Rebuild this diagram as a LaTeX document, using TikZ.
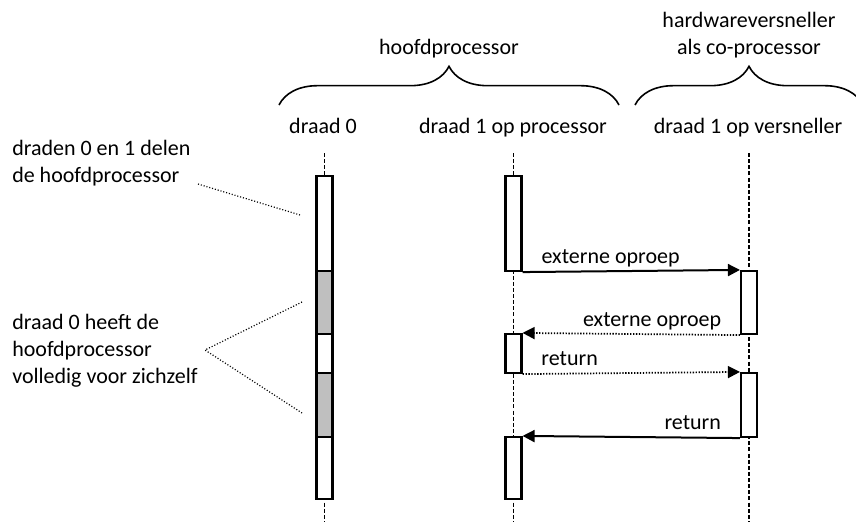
\documentclass[tikz,border=0pt]{standalone}
\usepackage{fontspec}
\setmainfont{Carlito}
\usetikzlibrary{arrows.meta,decorations.pathreplacing,fit}
\begin{document}
\begin{tikzpicture}[x=0.75pt,y=-0.75pt,
  every node/.style={font=\fontsize{16.5pt}{20pt}\selectfont, inner sep=0pt},
  act/.style={draw, line width=1.6pt, fill=white, rectangle, inner sep=0pt},
  busy/.style={act, fill=gray!50},
  lifeline/.style={line width=1.05pt, dash pattern=on 3pt off 1.6pt},
  msg/.style={line width=1.5pt, -{Triangle[length=9pt,width=9pt]}},
  msgdot/.style={msg, line width=1.3pt, dash pattern=on 1pt off 1.2pt},
  notelink/.style={line width=0.9pt, dash pattern=on 0.8pt off 1.4pt},
  bracket/.style={line width=1.2pt, decorate, decoration={brace, amplitude=29pt}},
  lbl/.style={inner sep=0pt}
]
\useasboundingbox (0,0) rectangle (856,522);

% column headings
\node[anchor=base] (main) at (449,54) {hoofdprocessor};
\node[anchor=base, align=center] (accel) at (749,54) {hardwareversneller\\als co-processor};
\draw[bracket] (279,105) -- (619,105);
\draw[bracket] (635,105) -- (863,105);
\node[anchor=base] (t0) at (323,133) {draad 0};
\node[anchor=base] (t1) at (513,133) {draad 1 op processor};
\node[anchor=base] (t2) at (748,133) {draad 1 op versneller};

% lifelines
\coordinate (l0top) at (324.5,153);  \coordinate (l0bot) at (324.5,522);
\coordinate (l1top) at (513.5,153);  \coordinate (l1bot) at (513.5,522);
\coordinate (l2top) at (749,153);    \coordinate (l2bot) at (749,522);
\draw[lifeline] (l0top) -- (l0bot);
\draw[lifeline] (l1top) -- (l1bot);
\draw[lifeline] (l2top) -- (l2bot);

% thread 0 on the main processor
\node[act,  fit={(316.5,176) (332.5,271)}] (w1) {};
\node[busy, fit={(316.5,271) (332.5,334)}] (g1) {};
\node[act,  fit={(316.5,334) (332.5,373)}] (w2) {};
\node[busy, fit={(316.5,373) (332.5,437)}] (g2) {};
\node[act,  fit={(316.5,437) (332.5,499)}] (w3) {};

% thread 1 on the main processor
\node[act, fit={(505.5,176) (521.5,271)}] (p1) {};
\node[act, fit={(505.5,334) (521.5,373)}] (p2) {};
\node[act, fit={(505.5,437) (521.5,499)}] (p3) {};

% thread 1 on the accelerator
\node[act, fit={(741,271) (757,334)}] (v1) {};
\node[act, fit={(741,373) (757,437)}] (v2) {};

% calls between processor and accelerator
\draw[msg] (p1.south east) -- (v1.north west)
  node[lbl, pos=0, anchor=base west, xshift=13.5pt, yshift=6.75pt] {externe oproep};
\draw[msgdot] (v1.south west) -- (p2.north east)
  node[lbl, pos=0, anchor=base east, xshift=-13.5pt, yshift=6.75pt] {externe oproep};
\draw[msgdot] (p2.south east) -- (v2.north west)
  node[lbl, pos=0, anchor=base west, xshift=13.5pt, yshift=6.75pt] {return};
\draw[msg] (v2.south west) -- (p3.north east)
  node[lbl, pos=0, anchor=base east, xshift=-13.5pt, yshift=6.75pt] {return};

% notes on the left
\node[anchor=base west, align=left] (n1) at (12,182) {draden 0 en 1 delen\\de hoofdprocessor};
\node[anchor=base west, align=left] (n2) at (12,383) {draad 0 heeft de\\hoofdprocessor\\volledig voor zichzelf};
\coordinate (n1tip) at (198,184);
\coordinate (n2tip) at (205,350);
\coordinate (s1) at (300,215);
\coordinate (s2) at (302,302);
\coordinate (s3) at (302,413);
\draw[notelink] (n1tip) -- (s1);
\draw[notelink] (s2) -- (n2tip) -- (s3);
\end{tikzpicture}
\end{document}
